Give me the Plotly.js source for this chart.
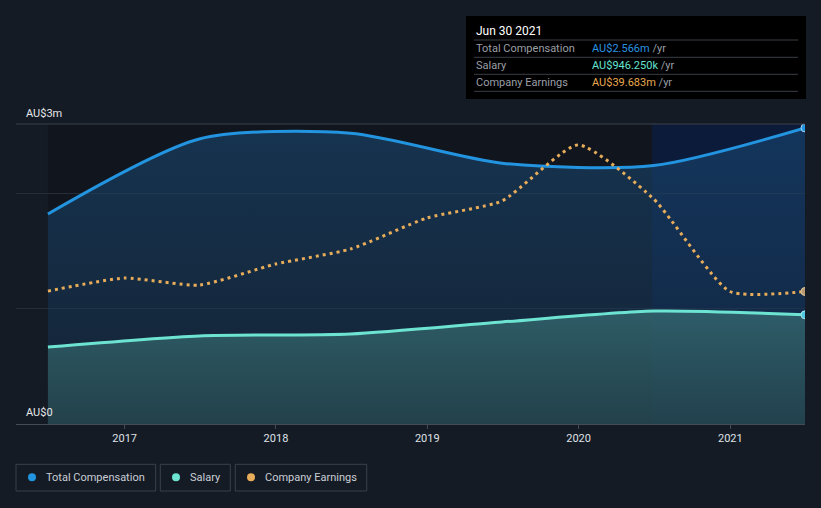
<!DOCTYPE html>
<html>
<head>
<meta charset="utf-8">
<script src="https://cdn.plot.ly/plotly-3.0.1.min.js"></script>
<style>
html,body{margin:0;padding:0;background:#151b25;}
#chart{width:821px;height:508px;}
</style>
</head>
<body>
<div id="chart"></div>
<script>
// Data (AU$ m)
var dates = ['2016-06-30','2017-06-30','2018-06-30','2019-06-30','2020-06-30','2021-06-30'];
var totalComp = [1.82, 2.47, 2.52, 2.26, 2.24, 2.566];
var salary = [0.667, 0.763, 0.78, 0.884, 0.979, 0.94625];
var earnDates = ['2016-06-30','2016-12-31','2017-06-30','2017-12-31','2018-06-30','2018-12-31','2019-06-30','2019-12-31','2020-06-30','2020-12-31','2021-06-30'];
var earnings = [39.8, 43.7, 41.6, 47.9, 52.4, 61.7, 66.8, 83.6, 67.4, 39.68, 39.683];
var tickYears = ['2017-01-01','2018-01-01','2019-01-01','2020-01-01','2021-01-01'];
var tickLabels = ['2017','2018','2019','2020','2021'];
var seriesNames = ['Total Compensation','Salary','Company Earnings'];
var seriesColors = ['#2394df','#6de3d1','#e8ad5a'];

var FONT = 'Roboto, "Open Sans", sans-serif';
var W = 821, H = 508, L = 16, R = 805, T = 124, B = 424;
function px(x){ return (x - L) / (R - L); }
function py(y){ return (B - y) / (B - T); }

var last = function(a){ return [a[a.length-1]]; };

var traces = [
  {x: dates, y: totalComp, type:'scatter', mode:'lines', line:{color:seriesColors[0], width:3, shape:'spline', smoothing:0.75},
   fill:'tozeroy', fillgradient:{type:'vertical', colorscale:[[0,'rgba(22,45,70,0.55)'],[1,'rgba(26,75,120,0.55)']]}, hoverinfo:'skip'},
  {x: dates, y: salary, type:'scatter', mode:'lines', line:{color:seriesColors[1], width:3, shape:'spline', smoothing:0.7},
   fill:'tozeroy', fillgradient:{type:'vertical', colorscale:[[0,'rgba(40,75,82,0.75)'],[1,'rgba(52,105,112,0.8)']]}, hoverinfo:'skip'},
  {x: earnDates, y: earnings, yaxis:'y2', type:'scatter', mode:'lines', line:{color:seriesColors[2], width:3, dash:'3px,4px', shape:'spline', smoothing:0.55}, hoverinfo:'skip'},
  {x: last(dates), y: last(totalComp), type:'scatter', mode:'markers', marker:{color:seriesColors[0], size:8, line:{color:'#a9d6f5', width:1}}, hoverinfo:'skip'},
  {x: last(dates), y: last(salary), type:'scatter', mode:'markers', marker:{color:'#4fc7e0', size:8, line:{color:'#a9e6f0', width:1}}, hoverinfo:'skip'},
  {x: last(earnDates), y: last(earnings), yaxis:'y2', type:'scatter', mode:'markers', marker:{color:'#b89a72', size:8, line:{color:'#e0c9a0', width:1}}, hoverinfo:'skip'}
];

var shapes = [
  // darkened past region and highlighted last period
  {type:'rect', xref:'x', yref:'paper', x0:'2016-06-30', x1:'2020-06-26', y0:0, y1:1, fillcolor:'rgba(0,0,0,0.18)', line:{width:0}, layer:'below'},
  {type:'rect', xref:'x', yref:'paper', x0:'2020-06-26', x1:'2021-06-30', y0:0, y1:1, fillcolor:'rgba(0,28,85,0.42)', line:{width:0}, layer:'below'},
  // top line
  {type:'line', xref:'paper', yref:'paper', x0:0, x1:1, y0:1, y1:1, line:{color:'#3c424c', width:1}},
  // tooltip box
  {type:'rect', xref:'paper', yref:'paper', x0:px(466), x1:px(806), y0:py(16), y1:py(99), fillcolor:'#000000', line:{width:0}}
];
[40, 57.3, 74.3, 91.3].forEach(function(yy){
  shapes.push({type:'line', xref:'paper', yref:'paper', x0:px(474), x1:px(798), y0:py(yy), y1:py(yy), line:{color:'#3a3e45', width:1}});
});

// legend boxes
var legBoxes = [[16,155.7],[160.3,230.3],[235.3,366.7]];
var legDots = [32,176,251];
var legText = [44.3,188.3,263.3];
legBoxes.forEach(function(b,i){
  shapes.push({type:'rect', xref:'paper', yref:'paper', x0:px(b[0]), x1:px(b[1]), y0:py(464.3), y1:py(491), line:{color:'#3b414b', width:1}, fillcolor:'rgba(0,0,0,0)'});
  shapes.push({type:'circle', xref:'paper', yref:'paper', x0:px(legDots[i]-4), x1:px(legDots[i]+4), y0:py(477.3-4), y1:py(477.3+4), fillcolor:seriesColors[i], line:{width:0}});
});

var annotations = [
  {xref:'paper', yref:'paper', x:px(24), y:py(113), text:'AU$3m', showarrow:false, xanchor:'left', yanchor:'middle', font:{family:FONT, size:11, color:'#e6e8ea'}},
  {xref:'paper', yref:'paper', x:px(24), y:py(412), text:'AU$0', showarrow:false, xanchor:'left', yanchor:'middle', font:{family:FONT, size:11, color:'#e6e8ea'}},
  {xref:'paper', yref:'paper', x:px(474), y:py(31), text:'Jun 30 2021', showarrow:false, xanchor:'left', yanchor:'middle', font:{family:FONT, size:12, color:'#ffffff'}}
];
var rowY = [48.3, 65.7, 82.7];
var rowVals = ['AU$2.566m','AU$946.250k','AU$39.683m'];
var valColors = ['#2a93e0','#64e2cf','#e9a94e'];
seriesNames.forEach(function(n,i){
  annotations.push({xref:'paper', yref:'paper', x:px(474), y:py(rowY[i]), text:n, showarrow:false, xanchor:'left', yanchor:'middle', font:{family:FONT, size:11, color:'#9a9fa6'}});
  annotations.push({xref:'paper', yref:'paper', x:px(590), y:py(rowY[i]), text:'<span style="color:'+valColors[i]+'">'+rowVals[i]+'</span> /yr', showarrow:false, xanchor:'left', yanchor:'middle', font:{family:FONT, size:11, color:'#9a9fa6'}});
  annotations.push({xref:'paper', yref:'paper', x:px(legText[i]), y:py(477.3), text:n, showarrow:false, xanchor:'left', yanchor:'middle', font:{family:FONT, size:11, color:'#c9ced5'}});
});

var layout = {
  width: W, height: H,
  margin: {l:L, r:W-R, t:T, b:H-B, pad:0},
  paper_bgcolor:'#151b25', plot_bgcolor:'rgba(0,0,0,0)',
  showlegend:false,
  hovermode:false,
  xaxis: {type:'date', range:['2016-04-14','2021-06-30'], tickvals:tickYears, ticktext:tickLabels,
    showgrid:false, zeroline:false, showline:true, linecolor:'#454b55', linewidth:1,
    ticks:'outside', ticklen:4, tickcolor:'#454b55', tickfont:{family:FONT, size:11, color:'#dfe2e6'}, fixedrange:true},
  yaxis: {range:[0,2.6], tickvals:[1,2], showticklabels:false, showgrid:true, gridcolor:'#262d38', gridwidth:1, zeroline:false, fixedrange:true},
  yaxis2: {overlaying:'y', range:[0,89.85], visible:false, showgrid:false, zeroline:false, fixedrange:true},
  shapes: shapes,
  annotations: annotations,
  font:{family:FONT}
};

Plotly.newPlot('chart', traces, layout, {displayModeBar:false, staticPlot:true});
</script>
</body>
</html>
